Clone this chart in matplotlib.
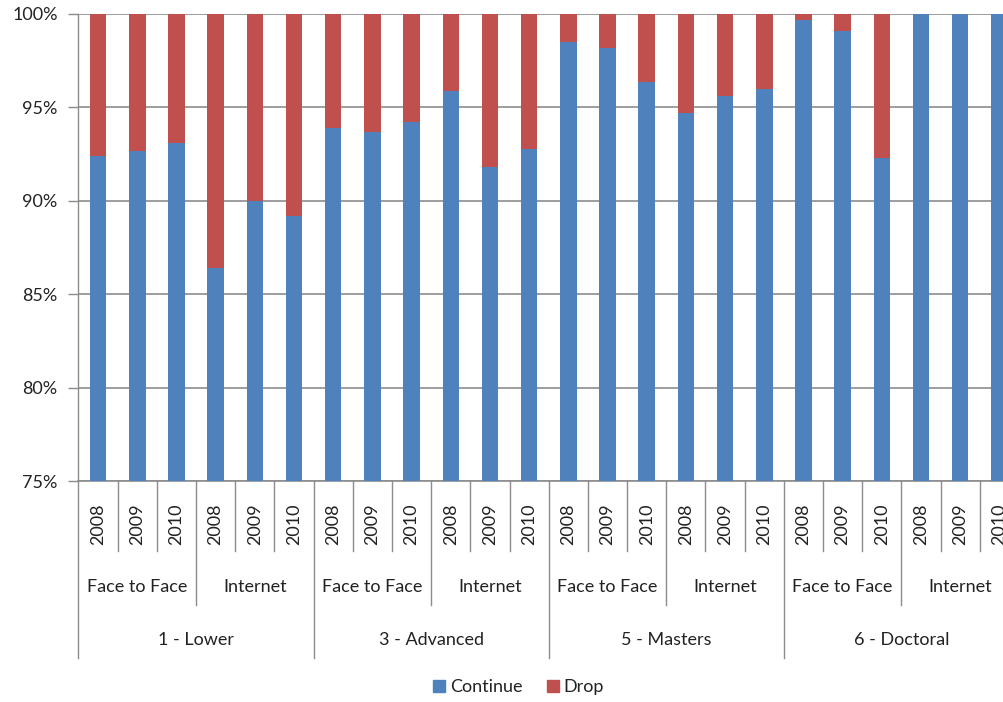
import matplotlib
matplotlib.use("Agg")
import matplotlib.pyplot as plt
from matplotlib.lines import Line2D
from matplotlib.ticker import FuncFormatter

plt.rcParams['font.family'] = ['Lato', 'DejaVu Sans']

levels = ["1 - Lower", "3 - Advanced", "5 - Masters", "6 - Doctoral"]
modes = ["Face to Face", "Internet"]
years = ["2008", "2009", "2010"]

continue_pct = [92.4, 92.65, 93.1, 86.4, 90.0, 89.2,
                93.9, 93.7, 94.2, 95.9, 91.8, 92.75,
                98.5, 98.2, 96.35, 94.7, 95.6, 96.0,
                99.7, 99.1, 92.3, 100.0, 100.0, 100.0]
drop_pct = [100.0 - v for v in continue_pct]

BLUE = "#4F81BD"
RED = "#C0504D"
GRID = "#8C8C8C"

W, H = 1004, 702
fig = plt.figure(figsize=(W / 100, H / 100), dpi=100)
ax_left, ax_right, ax_top, ax_bot = 78.5, 1019.0, 14.0, 481.0
ax = fig.add_axes([ax_left / W, (H - ax_bot) / H, (ax_right - ax_left) / W, (ax_bot - ax_top) / H])

n = len(continue_pct)
x = list(range(n))
ax.bar(x, continue_pct, width=0.42, color=BLUE, zorder=3, label="Continue")
ax.bar(x, drop_pct, bottom=continue_pct, width=0.42, color=RED, zorder=3, label="Drop")

ax.set_xlim(-0.5, n - 0.5)
ax.set_ylim(75, 100)
ax.set_yticks([75, 80, 85, 90, 95, 100])
ax.yaxis.set_major_formatter(FuncFormatter(lambda v, p: f"{int(v)}%"))
ax.tick_params(axis='y', length=7, width=1, color=GRID, labelsize=13, pad=8, labelcolor="#222222")
ax.set_xticks([])
ax.grid(axis='y', color=GRID, linewidth=1.2, zorder=1)
for s in ['top', 'right']:
    ax.spines[s].set_visible(False)
ax.spines['left'].set_color(GRID)
ax.spines['bottom'].set_color(GRID)
ax.spines['left'].set_linewidth(1)
ax.spines['bottom'].set_linewidth(1.2)

axh = ax_bot - ax_top
def ay(py):
    return -(py - ax_bot) / axh * -1 if False else (ax_bot - py) / axh

trans = ax.get_xaxis_transform()
txtcol = "#222222"
# separators
for i in range(n + 1):
    xb = i - 0.5
    if i % 6 == 0:
        yend = 658
    elif i % 3 == 0:
        yend = 605
    else:
        yend = 551
    ax.add_line(Line2D([xb, xb], [0, ay(yend)], transform=trans, color=GRID,
                       linewidth=1, clip_on=False))

# year labels
for i in range(n):
    ax.text(i, ay(524), years[i % 3], transform=trans, rotation=90,
            ha='center', va='center', fontsize=13, color=txtcol, clip_on=False)
# mode labels
for j in range(n // 3):
    ax.text(j * 3 + 1, ay(587), modes[j % 2], transform=trans,
            ha='center', va='center', fontsize=13, color=txtcol, clip_on=False)
# level labels
for k in range(len(levels)):
    ax.text(k * 6 + 2.5, ay(640), levels[k], transform=trans,
            ha='center', va='center', fontsize=13, color=txtcol, clip_on=False)

handles = [Line2D([], [], marker='s', linestyle='none', markersize=9, color=BLUE),
           Line2D([], [], marker='s', linestyle='none', markersize=9, color=RED)]
fig.legend(handles, ["Continue", "Drop"], loc='center', bbox_to_anchor=(517 / W, (H - 687) / H),
           ncol=2, frameon=False, fontsize=13, handletextpad=0.1, columnspacing=1.2,
           handlelength=1.0, labelcolor=txtcol)

fig.savefig("out.png", dpi=100)
